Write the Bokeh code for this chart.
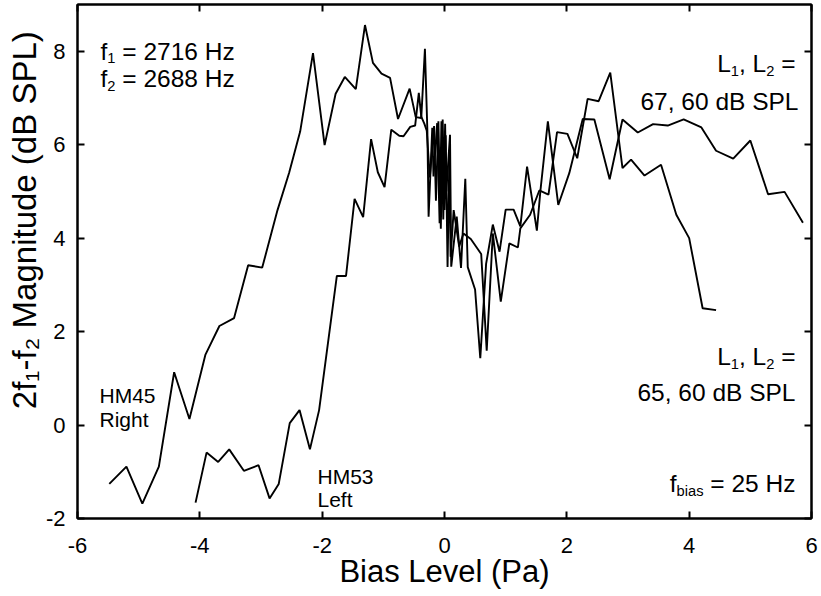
import numpy as np
from bokeh.plotting import figure
from bokeh.models import Label, LinearAxis, FixedTicker, Range1d, CustomLabelingPolicy
from bokeh.embed import file_html
from bokeh.resources import INLINE

# ---------------- data ----------------
hm45_x = [-5.48, -5.20, -4.94, -4.67, -4.42, -4.17, -3.91, -3.68, -3.44, -3.21,
          -2.98, -2.73, -2.54, -2.36, -2.15, -1.96, -1.78, -1.63, -1.45, -1.30,
          -1.17, -1.03, -0.89, -0.76, -0.57, -0.47, -0.38, -0.32, -0.28, -0.26,
          -0.20, -0.18, -0.12, -0.08, -0.05, -0.02, 0.01, 0.03, 0.09, 0.11,
          0.20, 0.27, 0.34, 0.38, 0.50, 0.585, 0.68, 0.79, 0.90, 1.00,
          1.13, 1.24, 1.35, 1.51, 1.57, 1.69, 1.86, 2.04, 2.26, 2.45,
          2.70, 2.91, 3.16, 3.41, 3.65, 3.91, 4.20, 4.44, 4.72, 5.00,
          5.29, 5.56, 5.86]
hm45_y = [-1.26, -0.89, -1.68, -0.89, 1.13, 0.13, 1.50, 2.12, 2.29, 3.42,
          3.37, 4.60, 5.40, 6.28, 7.96, 5.99, 7.09, 7.45, 7.19, 8.56,
          7.75, 7.52, 7.43, 6.55, 7.20, 6.59, 6.57, 8.05, 6.30, 4.46,
          6.36, 5.32, 6.46, 4.32, 6.50, 4.40, 6.45, 5.00, 6.21, 3.39,
          4.46, 3.36, 5.27, 3.38, 2.90, 1.43, 3.45, 4.29, 3.71, 4.61,
          4.61, 4.25, 5.53, 4.16, 5.04, 6.50, 4.71, 5.39, 6.55, 6.54,
          5.26, 6.54, 6.26, 6.44, 6.41, 6.54, 6.37, 5.87, 5.70, 6.09,
          4.94, 4.99, 4.33]

hm53_x = [-4.07, -3.89, -3.70, -3.52, -3.28, -3.04, -2.86, -2.71, -2.53, -2.37,
          -2.20, -2.05, -1.76, -1.61, -1.47, -1.33, -1.20, -1.09, -0.98, -0.87,
          -0.74, -0.67, -0.56, -0.48, -0.42, -0.38, -0.33, -0.29, -0.24, -0.17,
          -0.14, -0.10, -0.06, -0.03, 0.00, 0.02, 0.05, 0.08, 0.10, 0.15,
          0.24, 0.31, 0.43, 0.60, 0.69, 0.79, 0.92, 1.06, 1.20, 1.24,
          1.40, 1.55, 1.70, 1.84, 2.01, 2.17, 2.34, 2.52, 2.71, 2.91,
          3.05, 3.27, 3.54, 3.79, 4.00, 4.22, 4.44]
hm53_y = [-1.66, -0.59, -0.79, -0.52, -0.98, -0.86, -1.57, -1.26, 0.04, 0.32,
          -0.52, 0.32, 3.19, 3.19, 4.84, 4.45, 6.12, 5.41, 5.09, 6.32,
          6.19, 6.18, 6.38, 6.41, 7.11, 6.60, 6.45, 6.30, 5.30, 6.40,
          4.80, 6.50, 4.20, 6.54, 4.60, 6.20, 3.38, 5.80, 3.60, 4.60,
          3.82, 4.10, 3.98, 3.66, 1.59, 4.10, 2.64, 3.89, 3.80, 4.21,
          4.50, 5.02, 4.93, 6.27, 6.23, 5.71, 6.98, 6.93, 7.54, 5.50,
          5.68, 5.34, 5.57, 4.50, 4.00, 2.50, 2.46]

x_ticks = [-6, -4, -2, 0, 2, 4, 6]
y_ticks = [-2, 0, 2, 4, 6, 8]

assert len(hm45_x) == len(hm45_y)
assert len(hm53_x) == len(hm53_y)

FONT = "Liberation Sans"
NB = "\u00a0"

p = figure(width=821, height=596, output_backend="svg", toolbar_location=None,
           x_range=Range1d(-6, 6), y_range=Range1d(-2, 9.0),
           min_border_left=77, min_border_right=10, min_border_top=4,
           min_border_bottom=78)
p.background_fill_color = "white"
p.border_fill_color = "white"
p.grid.visible = False
p.outline_line_color = "black"
p.outline_line_width = 2

for ax, ticks in ((p.xaxis[0], x_ticks), (p.yaxis[0], y_ticks)):
    ax.ticker = FixedTicker(ticks=ticks)
    ax.major_label_overrides = {t: str(t) for t in ticks}
    ax.axis_line_width = 2
    ax.major_tick_line_width = 2
    ax.major_tick_in = 7
    ax.major_tick_out = 0
    ax.minor_tick_line_color = None
    ax.major_label_text_font = FONT
    ax.major_label_text_font_size = "22px"
    ax.major_label_text_color = "black"
    ax.axis_label_text_font = FONT
    ax.axis_label_text_font_style = "normal"
    ax.axis_label_text_color = "black"

p.xaxis[0].axis_label = "Bias Level (Pa)"
p.xaxis[0].axis_label_text_font_size = "31px"
p.xaxis[0].major_label_standoff = 19
p.xaxis[0].axis_label_standoff = -2
p.yaxis[0].axis_label = NB * 9 + "2f\u2081-f\u2082 Magnitude (dB SPL)"
p.yaxis[0].axis_label_text_font_size = "33px"
p.yaxis[0].major_label_standoff = 12
p.yaxis[0].axis_label_standoff = 0

hide_all = CustomLabelingPolicy(code="return new Set()")
for loc, ticks in (("above", x_ticks), ("right", y_ticks)):
    ax = LinearAxis(ticker=FixedTicker(ticks=ticks))
    ax.axis_line_width = 2
    ax.major_tick_line_width = 2
    ax.major_tick_in = 7
    ax.major_tick_out = 0
    ax.minor_tick_line_color = None
    ax.major_label_text_font_size = "1px"
    ax.major_label_standoff = 0
    ax.major_label_policy = hide_all
    p.add_layout(ax, loc)

p.line(hm45_x, hm45_y, line_color="black", line_width=1.9)
p.line(hm53_x, hm53_y, line_color="black", line_width=1.9)

# ------------- composed annotation texts -------------
W = {' ': 278, NB: 278, ',': 278, '=': 584, '-': 333, 'H': 722, 'z': 500, 'f': 278,
     'L': 556, 'd': 556, 'B': 667, 'S': 667, 'P': 667, 'M': 833, 'b': 556,
     'i': 222, 'a': 556, 's': 500, 'R': 722, 'g': 556, 'h': 556, 't': 278,
     'e': 556}
for dch in "0123456789":
    W[dch] = 556


def twidth(s, size):
    return sum(W.get(c, 556) for c in s) * size / 1000.0


def add_text(parts, x, y, size, align="left"):
    # parts: list of (text, is_sub)
    sub_size = size * 0.6
    total = sum(twidth(t, sub_size if sub else size) for t, sub in parts)
    off = -total if align == "right" else 0.0
    for t, sub in parts:
        fs = sub_size if sub else size
        p.add_layout(Label(x=x, y=y, x_offset=off, y_offset=(-7 if sub else 0),
                           text=t, text_font=FONT, text_font_size=f"{fs:.1f}px",
                           text_align="left", text_baseline="alphabetic",
                           text_color="black"))
        off += twidth(t, fs)


def px2x(px):
    return (px - 77) / 61.17 - 6


S = 24.5
add_text([("f", False), ("1", True), (NB + "=" + NB + "2716 Hz", False)], px2x(100), 8.0, S)
add_text([("f", False), ("2", True), (NB + "=" + NB + "2688 Hz", False)], px2x(100), 7.41, S)
add_text([("L", False), ("1", True), (", L", False), ("2", True), (NB + "=", False)],
         px2x(795), 7.73, S, "right")
add_text([("67, 60 dB SPL", False)], px2x(798), 6.93, S, "right")
add_text([("L", False), ("1", True), (", L", False), ("2", True), (NB + "=", False)],
         px2x(795), 1.46, S, "right")
add_text([("65, 60 dB SPL", False)], px2x(795), 0.69, S, "right")
add_text([("f", False), ("bias", True), (NB + "=" + NB + "25 Hz", False)],
         px2x(795), -1.26, S, "right")

H = 21
add_text([("HM45", False)], px2x(99), 0.64, H)
add_text([("Right", False)], px2x(99), 0.11, H)
add_text([("HM53", False)], px2x(317), -1.11, H)
add_text([("Left", False)], px2x(317), -1.60, H)

open("out.html", "w").write(file_html(p, INLINE))
